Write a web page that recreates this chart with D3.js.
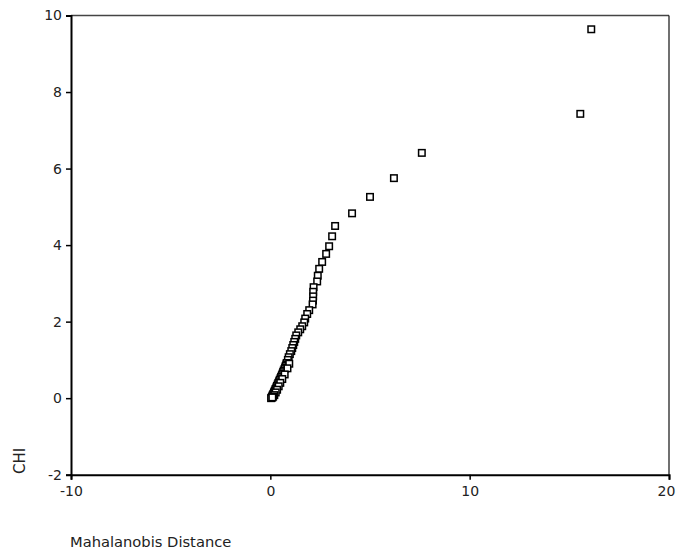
<!DOCTYPE html>
<html>
<head>
<meta charset="utf-8">
<script src="https://cdn.jsdelivr.net/npm/d3@7"></script>
<style>
  html, body { margin: 0; padding: 0; background: #fff; }
  svg { display: block; }
  text { font-family: "DejaVu Sans", Verdana, sans-serif; fill: #222; }
</style>
</head>
<body>
<svg id="chart" width="676" height="552"></svg>
<script>
// Mahalanobis distance vs. chi-square quantile (Q-Q style check)
const distance = [
  16.1, 15.55, 7.6, 6.2, 5.0, 4.1, 3.25, 3.1, 2.95, 2.8, 2.6, 2.45, 2.38, 2.35,
  2.17, 2.15, 2.15, 2.14, 2.12, 1.95, 1.85, 1.75, 1.7, 1.6, 1.5, 1.4, 1.3, 1.25,
  1.2, 1.15, 1.1, 1.05, 0.98, 0.92, 0.88, 0.82,
  0.8, 0.77, 0.74, 0.71, 0.67, 0.64, 0.61, 0.58, 0.54, 0.51, 0.47, 0.44, 0.4,
  0.37, 0.33, 0.3, 0.26, 0.23, 0.2, 0.18, 0.15, 0.12, 0.1, 0.08, 0.06, 0.04,
  0.95, 0.86, 0.72, 0.6, 0.5, 0.42, 0.34, 0.27, 0.2, 0.14, 0.1
];
const chi = [
  9.64, 7.43, 6.41, 5.75, 5.26, 4.83, 4.5, 4.23, 3.97, 3.77, 3.56, 3.38, 3.2, 3.05,
  2.9, 2.78, 2.66, 2.55, 2.45, 2.3, 2.2, 2.08, 1.98, 1.88, 1.8, 1.72, 1.64, 1.55,
  1.47, 1.39, 1.31, 1.23, 1.15, 1.07, 1.0, 0.92,
  0.88, 0.84, 0.8, 0.76, 0.72, 0.68, 0.64, 0.6, 0.56, 0.52, 0.48, 0.44, 0.4,
  0.36, 0.32, 0.28, 0.24, 0.2, 0.17, 0.14, 0.11, 0.08, 0.05, 0.03, 0.01, 0.0,
  0.9, 0.78, 0.62, 0.5, 0.4, 0.31, 0.22, 0.15, 0.08, 0.04, 0.02
];
const xTicks = [-10, 0, 10, 20];
const yTicks = [-2, 0, 2, 4, 6, 8, 10];
const xTitle = "Mahalanobis Distance";
const yTitle = "CHI";

const svg = d3.select("#chart");
const plotLeft = 71, plotRight = 669, plotTop = 15.5, plotBottom = 474.7;

const x = d3.scaleLinear().domain([-10, 20]).range([plotLeft, plotRight]);
const y = d3.scaleLinear().domain([-2, 10]).range([plotBottom, plotTop]);

// frame: top and right edges
svg.append("line").attr("x1", plotLeft).attr("x2", plotRight).attr("y1", plotTop).attr("y2", plotTop)
  .attr("stroke", "#444").attr("stroke-width", 1.5);
svg.append("line").attr("x1", plotRight).attr("x2", plotRight).attr("y1", plotTop).attr("y2", plotBottom)
  .attr("stroke", "#111").attr("stroke-width", 1.2);

// axes (plain hyphen for negative numbers)
const fmt = d => String(d);
const xAxis = d3.axisBottom(x).tickValues(xTicks).tickSize(5).tickPadding(6).tickFormat(fmt);
const yAxis = d3.axisLeft(y).tickValues(yTicks).tickSize(5).tickPadding(4).tickFormat(fmt);

const gx = svg.append("g").attr("transform", `translate(0,${plotBottom})`).call(xAxis);
const gy = svg.append("g").attr("transform", `translate(${plotLeft},0)`).call(yAxis);

[gx, gy].forEach(g => {
  g.select(".domain").attr("stroke", "#000").attr("stroke-width", 2);
  g.selectAll(".tick line").attr("stroke", "#000").attr("stroke-width", 1.5);
  g.selectAll(".tick text").attr("font-size", 14).attr("fill", "#1a1a1a")
    .attr("font-family", '"DejaVu Sans", Verdana, sans-serif');
});
// keep the last x label inside the page edge
gx.selectAll(".tick text").filter(d => d === 20).attr("dx", -3);

// axis titles
svg.append("text")
  .attr("x", 70).attr("y", 547)
  .attr("font-size", 14.7)
  .text(xTitle);
svg.append("text")
  .attr("transform", "translate(25,474) rotate(-90)")
  .attr("font-size", 15)
  .text(yTitle);

// points: open squares
const pts = distance.map((d, i) => ({ d, c: chi[i] }));
const s = 6.5;
svg.append("g").selectAll("rect").data(pts).join("rect")
  .attr("x", p => x(p.d) - s / 2)
  .attr("y", p => y(p.c) - s / 2)
  .attr("width", s).attr("height", s)
  .attr("fill", "#fff")
  .attr("stroke", "#000")
  .attr("stroke-width", 1.5);
</script>
</body>
</html>
